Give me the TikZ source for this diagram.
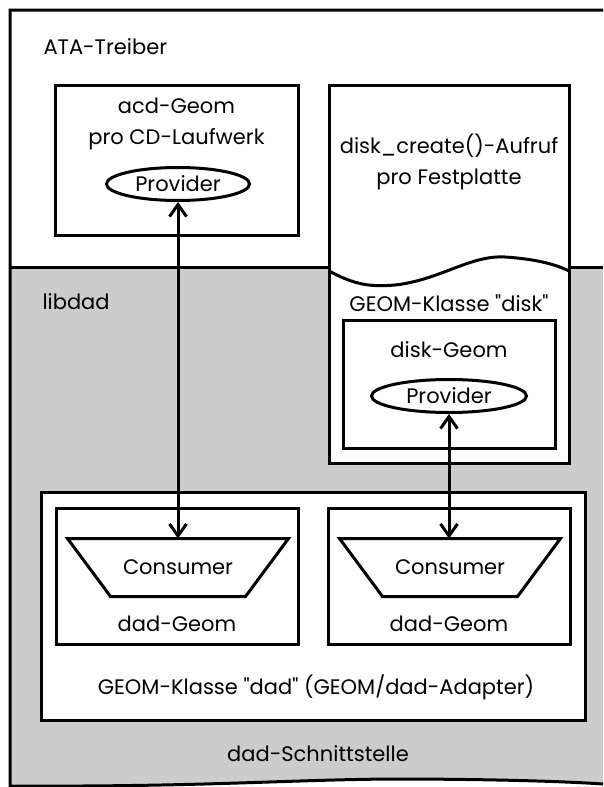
\documentclass[tikz,border=0pt]{standalone}
\usepackage{fontspec}
\setmainfont{Poppins}
\usetikzlibrary{shapes.geometric,arrows.meta}
\definecolor{dadgray}{gray}{0.8}

\begin{document}
\begin{tikzpicture}[x=1pt,y=-1pt,line width=3pt,
		box/.style={draw,fill=white,inner sep=0pt},
		lbl/.style={font=\fontsize{21}{31}\selectfont,align=center,inner sep=0pt},
		prov/.style={draw,fill=white,ellipse,inner sep=0pt,minimum height=33pt,font=\fontsize{21}{24}\selectfont},
		cons/.style={rectangle,inner sep=0pt,minimum width=218pt,minimum height=55pt,font=\fontsize{21}{24}\selectfont},
		link/.style={{Straight Barb[length=12pt,width=17pt]}-{Straight Barb[length=12pt,width=17pt]},line width=3pt}]
	\useasboundingbox (0,0) rectangle (603,787);
	\fill[dadgray] (10,267) -- (603,267) -- (603,784) .. controls (560,781) and (480,779) .. (390,779) .. controls (280,780) and (200,787) .. (10,786) -- cycle;
	\draw (603,10) -- (10,10) -- (10,786) .. controls (200,787) and (280,780) .. (390,779) .. controls (480,779) and (560,781) .. (603,784);
	\draw (10,267) -- (329,267);
	\draw (569,267) -- (603,267);

	\node[lbl,anchor=west] (ata) at (42,47) {ATA-Treiber};
	\node[box,minimum width=243pt,minimum height=150pt] (acdgeom) at (176.5,160) {};
	\node[lbl] (acdtxt) at (176.5,124) {acd-Geom\\pro CD-Laufwerk};
	\node[prov,minimum width=143pt] (acdprov) at (178,184) {Provider};

	\node[box,minimum width=240pt,minimum height=378pt] (diskbox) at (449,274) {};
	\draw (329,271) .. controls (355,285) and (370,287) .. (395,285) .. controls (440,280) and (470,255) .. (505,257) .. controls (535,259) and (555,264) .. (569,271);
	\node[lbl] (disktxt) at (449,162) {disk\_create()-Aufruf\\pro Festplatte};
	\node[lbl] (diskcls) at (449,303) {GEOM-Klasse \textquotedbl disk\textquotedbl};
	\node[box,minimum width=212pt,minimum height=128pt] (diskgeom) at (449,384) {};
	\node[lbl] (disktitle) at (449,350) {disk-Geom};
	\node[prov,minimum width=155pt] (diskprov) at (449,396) {Provider};

	\node[lbl,anchor=west] (libdad) at (41,302) {libdad};
	\node[box,minimum width=544pt,minimum height=228pt] (adapter) at (313,606) {};
	\node[box,minimum width=242pt,minimum height=136pt] (ldad) at (177,576) {};
	\node[box,minimum width=242pt,minimum height=136pt] (rdad) at (449,576) {};
	\node[cons] (lcons) at (178,567.5) {Consumer};
	\draw (lcons.north west) -- (lcons.north east) -- ([xshift=-43pt]lcons.south east) -- ([xshift=43pt]lcons.south west) -- cycle;
	\node[cons] (rcons) at (450,567.5) {Consumer};
	\draw (rcons.north west) -- (rcons.north east) -- ([xshift=-43pt]rcons.south east) -- ([xshift=43pt]rcons.south west) -- cycle;
	\node[lbl] (ldadtxt) at (177,624) {dad-Geom};
	\node[lbl] (rdadtxt) at (449,624) {dad-Geom};
	\node[lbl] (adaptertxt) at (316,687) {GEOM-Klasse \textquotedbl dad\textquotedbl{} (GEOM/dad-Adapter)};
	\node[lbl] (schnitt) at (318,754) {dad-Schnittstelle};

	\draw[link] (acdprov.south) -- (acdprov.south |- lcons.north);
	\draw[link] (diskprov.south) -- (diskprov.south |- rcons.north);
\end{tikzpicture}
\end{document}
